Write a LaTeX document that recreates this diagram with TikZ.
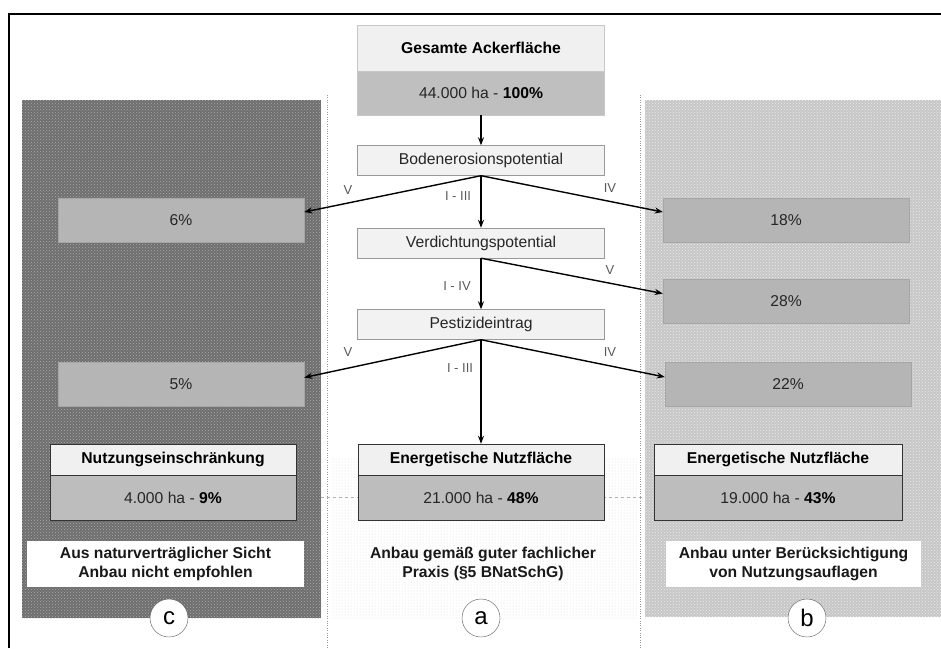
\documentclass[tikz,border=0pt]{standalone}
\usepackage{fontspec}
\setmainfont{Liberation Sans}
\usetikzlibrary{arrows.meta,patterns}

\tikzset{
    topbox/.style={draw=black!22, minimum width=247pt, inner sep=0pt},
    stepbox/.style={draw=black!40, fill=black!5, minimum width=247pt, minimum height=30pt, inner sep=0pt, text=black!85},
    sharebox/.style={draw=black!35, fill=black!29, minimum width=246pt, minimum height=44pt, inner sep=0pt, text=black!85},
    headbox/.style={draw=black!80, fill=black!6, minimum width=246pt, minimum height=31pt, inner sep=0pt, font=\bfseries},
    valbox/.style={draw=black!80, fill=black!26, minimum width=246pt, minimum height=45pt, inner sep=0pt, text=black!85},
    notebox/.style={fill=white, minimum height=46pt, inner sep=0pt, align=center, font=\bfseries, text=black!90},
    flowarrow/.style={-{Stealth[length=8pt,width=6pt]}, line width=1.4pt},
    gradelabel/.style={font=\fontsize{13}{15}\selectfont, text=black!65},
    variantmark/.style={circle, draw=black!65, fill=white, minimum size=38pt, inner sep=0pt, font=\fontsize{24}{26}\selectfont}
}

\begin{document}
\fontsize{15.7}{19}\selectfont
\begin{tikzpicture}[x=1pt, y=-1pt]
    \useasboundingbox (0,0) rectangle (941,648);

    % Frame
    \draw[line width=1.2pt] (9,648) -- (9,14) -- (941,14);

    % Background panels
    \fill[black!57] (22,100) rectangle (321,618);
    \fill[pattern=crosshatch dots, pattern color=black!32] (22,100) rectangle (321,618);
    \fill[black!22] (645,100) rectangle (941,617);
    \fill[pattern=crosshatch dots, pattern color=black!8] (645,100) rectangle (941,617);
    \fill[pattern=dots, pattern color=black!15] (331,458) rectangle (638,618);

    % Separators
    \draw[black!40, dotted] (327,95) -- (327,648);
    \draw[black!40, dotted] (640,95) -- (640,648);
    \draw[black!30, dashed, thin] (321,497) -- (645,497);

    % Total area
    \node[topbox, fill=black!6, minimum height=46pt, font=\bfseries] (total) at (481,48) {Gesamte Ackerfläche};
    \node[topbox, fill=black!25, minimum height=44pt, text=black!85] (totalval) at (481,93) {44.000 ha - \textbf{\color{black}100\%}};

    % Criteria
    \node[stepbox] (erosion) at (481,160.5) {Bodenerosionspotential};
    \node[stepbox] (compact) at (481,243) {Verdichtungspotential};
    \node[stepbox] (pesticide) at (481,324.5) {Pestizideintrag};

    % Shares
    \node[sharebox] (c6) at (181,220) {6\%};
    \node[sharebox] (c5) at (181,384.5) {5\%};
    \node[sharebox] (b18) at (786,220) {18\%};
    \node[sharebox] (b28) at (786,301.5) {28\%};
    \node[sharebox] (b22) at (788,384) {22\%};

    % Results
    \node[headbox] (ctitle) at (173,459.5) {Nutzungseinschränkung};
    \node[valbox] (cval) at (173,497.5) {4.000 ha - \textbf{\color{black}9\%}};
    \node[headbox] (atitle) at (481,459.5) {Energetische Nutzfläche};
    \node[valbox] (aval) at (481,497.5) {21.000 ha - \textbf{\color{black}48\%}};
    \node[headbox, minimum width=248pt] (btitle) at (778,459.5) {Energetische Nutzfläche};
    \node[valbox, minimum width=248pt] (bval) at (778,497.5) {19.000 ha - \textbf{\color{black}43\%}};

    % Arrows
    \draw[flowarrow] (totalval) -- (erosion);
    \draw[flowarrow] (erosion) -- (compact);
    \draw[flowarrow] (compact) -- (pesticide);
    \draw[flowarrow] (pesticide) -- (atitle);
    \draw[flowarrow] (erosion.south) -- ([yshift=8pt]c6.east);
    \draw[flowarrow] (erosion.south) -- ([yshift=8pt]b18.west);
    \draw[flowarrow] (compact.south) -- ([yshift=8pt]b28.west);
    \draw[flowarrow] (pesticide.south) -- ([yshift=7pt]c5.east);
    \draw[flowarrow] (pesticide.south) -- ([yshift=7pt]b22.west);

    % Classes
    \node[gradelabel] (g1) at (348,190) {V};
    \node[gradelabel] (g2) at (458,196) {I - III};
    \node[gradelabel] (g3) at (610,188) {IV};
    \node[gradelabel] (g4) at (457,286) {I - IV};
    \node[gradelabel] (g5) at (610,270) {V};
    \node[gradelabel] (g6) at (348,352) {V};
    \node[gradelabel] (g7) at (460,368) {I - III};
    \node[gradelabel] (g8) at (610,352) {IV};

    % Notes
    \node[notebox, minimum width=277pt] (cnote) at (165.5,564) {Aus naturverträglicher Sicht\\Anbau nicht empfohlen};
    \node[notebox, fill=none] (anote) at (483,564) {Anbau gemäß guter fachlicher\\Praxis (§5 BNatSchG)};
    \node[notebox, minimum width=255pt] (bnote) at (793.5,564) {Anbau unter Berücksichtigung\\von Nutzungsauflagen};

    % Variants
    \node[variantmark] (vc) at (169,618) {c};
    \node[variantmark] (va) at (481,618) {a};
    \node[variantmark] (vb) at (807,618) {b};

\end{tikzpicture}
\end{document}
